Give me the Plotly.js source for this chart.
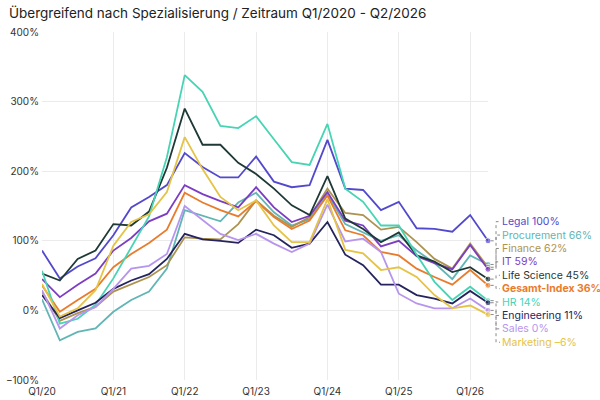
<!DOCTYPE html>
<html>
<head>
<meta charset="utf-8">
<script src="https://cdn.plot.ly/plotly-3.0.1.min.js"></script>
<style>
  html, body { margin: 0; padding: 0; background: #fff; }
  #chart { width: 600px; height: 400px; }
</style>
</head>
<body>
<div id="chart"></div>
<script>
const quarters = [
  'Q1/20', 'Q2/20', 'Q3/20', 'Q4/20',
  'Q1/21', 'Q2/21', 'Q3/21', 'Q4/21',
  'Q1/22', 'Q2/22', 'Q3/22', 'Q4/22',
  'Q1/23', 'Q2/23', 'Q3/23', 'Q4/23',
  'Q1/24', 'Q2/24', 'Q3/24', 'Q4/24',
  'Q1/25', 'Q2/25', 'Q3/25', 'Q4/25',
  'Q1/26', 'Q2/26'
];
const yearTicks = ['Q1/20', 'Q1/21', 'Q1/22', 'Q1/23', 'Q1/24', 'Q1/25', 'Q1/26'];

const legal       = [86, 46, 63, 75, 108, 148, 163, 180, 226, 206, 191, 191, 221, 185, 177, 180, 245, 175, 173, 144, 156, 118, 117, 113, 137, 100];
const procurement = [16, -43, -31, -26, -2, 15, 27, 60, 144, 136, 128, 155, 169, 141, 122, 131, 167, 124, 112, 100, 108, 86, 68, 45, 79, 66];
const finance     = [27, -15, -4, 5, 27, 38, 48, 65, 105, 103, 102, 124, 158, 136, 120, 134, 175, 140, 137, 116, 120, 98, 74, 60, 96, 62];
const it          = [45, 19, 37, 53, 86, 104, 128, 139, 180, 167, 157, 148, 177, 148, 127, 136, 170, 129, 122, 92, 100, 78, 68, 59, 94, 59];
const lifeScience = [53, 43, 74, 86, 124, 122, 142, 205, 290, 238, 238, 212, 196, 175, 151, 137, 193, 132, 117, 98, 112, 79, 70, 55, 62, 45];
const gesamt      = [36, -2, 15, 31, 62, 81, 97, 116, 169, 155, 144, 135, 157, 134, 117, 129, 165, 115, 108, 84, 79, 60, 48, 37, 58, 36];
const hr          = [57, -19, -12, 8, 46, 91, 135, 220, 338, 314, 265, 262, 279, 246, 213, 209, 268, 175, 156, 122, 122, 80, 41, 15, 34, 14];
const engineering = [22, -11, 0, 11, 31, 43, 52, 74, 110, 102, 100, 97, 116, 108, 90, 96, 127, 80, 65, 37, 37, 22, 17, 10, 28, 11];
const sales       = [29, -26, -7, 5, 31, 60, 64, 81, 150, 130, 110, 101, 110, 96, 84, 96, 152, 99, 103, 84, 24, 10, 3, 3, 17, 0];
const marketing   = [38, -9, 3, 29, 93, 127, 138, 170, 249, 203, 163, 144, 158, 122, 98, 98, 160, 87, 82, 58, 62, 48, 22, 3, 7, -6];

const seriesNames = ['Legal', 'Procurement', 'Finance', 'IT', 'Life Science', 'Gesamt-Index', 'HR', 'Engineering', 'Sales', 'Marketing'];
const seriesValues = [legal, procurement, finance, it, lifeScience, gesamt, hr, engineering, sales, marketing];
const colors = ['#5249cc', '#62b5b5', '#ad9350', '#7c3dc2', '#1f3936', '#e97c2c', '#47d4b4', '#25245e', '#b795ee', '#e5c345'];

// y range of the chart, used to place the connectors in paper units
const yMin = -100, yMax = 400;
const labelTop = 0.455, labelStep = 0.0385;
const bracketX = 1.018, labelX = 1.027;

const data = seriesValues.map((vals, i) => ({
  x: quarters,
  y: vals,
  name: seriesNames[i],
  type: 'scatter',
  mode: 'lines+markers',
  line: {color: colors[i], width: 1.8},
  marker: {color: colors[i], size: vals.map((_, k) => k === vals.length - 1 ? 6 : 0)},
  cliponaxis: false,
  hoverinfo: 'x+y+name'
}));

const shapes = [];
const annotations = [];
seriesValues.forEach((vals, i) => {
  const last = vals[vals.length - 1];
  const py = (last - yMin) / (yMax - yMin);
  const ly = labelTop - i * labelStep;
  shapes.push({
    type: 'path',
    xref: 'paper', yref: 'paper',
    path: `M 1.006 ${py} L ${bracketX} ${py} L ${bracketX} ${ly} L ${labelX} ${ly}`,
    line: {color: '#8a8a8a', width: 1, dash: 'dot'}
  });
  const label = seriesNames[i] + ' ' + String(last).replace('-', '–') + '%';
  annotations.push({
    xref: 'paper', yref: 'paper',
    x: labelX, y: ly,
    xanchor: 'left', yanchor: 'middle',
    showarrow: false,
    text: seriesNames[i] === 'Gesamt-Index' ? '<b>' + label + '</b>' : label,
    font: {family: 'Inter', size: 10.5, color: colors[i]}
  });
});

const layout = {
  title: {
    text: 'Übergreifend nach Spezialisierung / Zeitraum Q1/2020 - Q2/2026',
    x: 0.015, xanchor: 'left', xref: 'container',
    y: 0.966, yanchor: 'middle', yref: 'container',
    font: {family: 'Inter', size: 13.5, color: '#222'}
  },
  showlegend: false,
  width: 600,
  height: 400,
  margin: {l: 42, r: 112, t: 32, b: 20},
  paper_bgcolor: '#fff',
  plot_bgcolor: '#fff',
  xaxis: {
    type: 'category',
    range: [0, 25],
    tickvals: yearTicks,
    ticktext: yearTicks,
    showgrid: true,
    gridcolor: '#ebebeb',
    gridwidth: 1,
    showline: false,
    zeroline: false,
    ticks: '',
    ticklabelstandoff: 4,
    tickfont: {family: 'Inter', size: 10, color: '#333'}
  },
  yaxis: {
    range: [yMin, yMax],
    dtick: 100,
    ticksuffix: '%',
    showgrid: true,
    gridcolor: '#ebebeb',
    gridwidth: 1,
    zeroline: false,
    showline: false,
    ticks: '',
    ticklabelstandoff: 2,
    tickfont: {family: 'Inter', size: 10, color: '#333'}
  },
  shapes,
  annotations
};

Plotly.newPlot('chart', data, layout, {displayModeBar: false, staticPlot: true});
</script>
</body>
</html>
